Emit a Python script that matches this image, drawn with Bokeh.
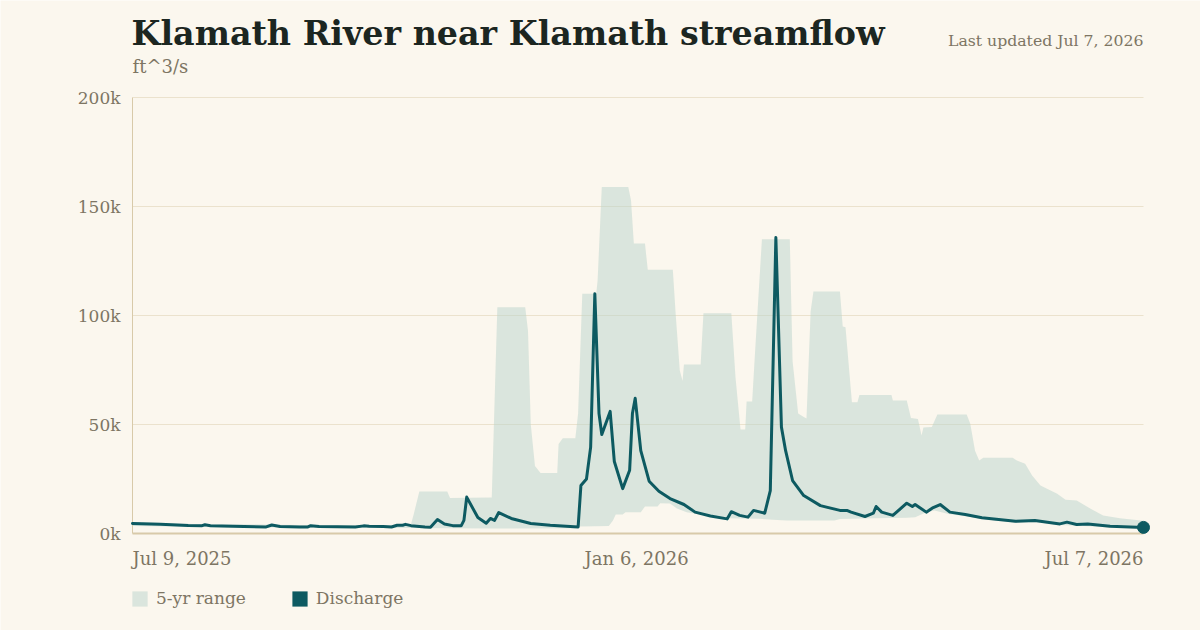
import numpy as np
import pandas as pd
from bokeh.plotting import figure
from bokeh.models import Label, Legend, LegendItem, Range1d
from bokeh.embed import file_html
from bokeh.resources import INLINE

# ---------------- data ----------------
# days counted from Jul 9, 2025; values in thousands of ft^3/s
discharge_day = [0, 10, 20, 25, 26, 28, 40, 48, 50, 53, 60, 63, 64, 67, 80, 83, 85, 90,
                 93, 95, 97, 98, 100, 105, 107, 109.5, 112, 115, 118, 119, 120, 124, 127,
                 128.5, 130, 131.5, 136, 143, 150, 160, 161, 163, 164.5, 166, 167.5, 168.5,
                 171.5, 173, 176, 178.5, 179.5, 180.5, 182.5, 185.5, 189, 193, 198, 202,
                 207.5, 213.5, 215, 218, 221, 223, 227, 229, 231, 233, 234.5, 237, 241, 247,
                 254, 256.5, 258, 263, 266, 267, 269, 273, 278, 280, 281, 285, 287.5, 290,
                 293.5, 299, 305, 317, 324, 333, 335.5, 339, 343, 351, 363]
discharge_k = [4.6, 4.2, 3.7, 3.6, 4.0, 3.6, 3.2, 3.0, 3.9, 3.2, 3.0, 3.0, 3.6, 3.2, 3.0, 3.5,
               3.3, 3.2, 3.0, 3.8, 3.8, 4.2, 3.6, 3.0, 2.9, 6.4, 4.4, 3.6, 3.5, 6.0, 16.7, 7.3,
               4.7, 6.9, 6.0, 9.6, 6.9, 4.6, 3.8, 3.0, 22, 25, 39.6, 110, 55, 45.4, 56, 33,
               20.6, 29, 55, 62, 38, 24, 19.4, 16, 13.3, 9.8, 8.0, 6.7, 10, 8.3, 7.5, 10.6,
               9.3, 19.7, 135.8, 48.8, 38, 24.3, 17.4, 12.8, 10.6, 10.6, 9.8, 7.8, 9.3, 12.4,
               9.8, 8.3, 13.9, 12.4, 13.3, 9.8, 11.9, 13.3, 9.8, 8.7, 7.2, 5.6, 6.0, 4.4, 5.2,
               4.1, 4.4, 3.3, 2.8]

range_upper_day = [0, 10, 30, 40, 50, 70, 90, 100, 101, 103, 113, 114, 129, 131, 141, 142, 143,
                   144.5, 146.5, 152.5, 153, 154.5, 159, 160, 161.5, 166.5, 167, 168.5, 178,
                   179, 180, 184, 185, 194, 195, 196.5, 197.5, 198, 204, 205, 215, 216.5,
                   218.3, 220, 220.5, 222.5, 223.5, 226, 236, 237, 239, 241, 242, 243.5,
                   244.5, 254, 255, 256, 258.3, 260.3, 261, 272.5, 273, 278, 279.5, 282,
                   283.3, 284, 287, 289, 299.5, 300.8, 302.5, 304, 305.5, 316, 317.5, 320.5,
                   323, 326, 332, 335, 339, 344, 348.5, 354.5, 362, 363]
range_upper_k = [5.2, 4.8, 4.0, 4.3, 4.0, 3.8, 3.8, 4.2, 9, 19.3, 19.3, 16.3, 16.5, 103.8,
                 103.8, 93, 50, 31, 27.7, 27.7, 41, 43.7, 43.7, 55, 110, 110, 116, 159, 159,
                 152.8, 133, 133, 121, 121, 101, 74.8, 70, 77.5, 77.5, 101, 101, 71.7, 47.7,
                 47.7, 60.5, 60.5, 82.5, 135, 135, 79, 55, 53.4, 52.7, 102, 111, 111, 95,
                 94.6, 60.2, 60.2, 63.5, 63.5, 61, 61, 53, 52.5, 45, 48.6, 48.8, 54.6, 54.6,
                 50.3, 38, 33.5, 34.7, 34.7, 33.5, 32, 26.6, 22, 18.2, 15.5, 15.1, 11.3, 8.3,
                 7, 6, 5.8]

range_lower_day = [0, 30, 60, 100, 130, 159, 160, 171, 172.5, 173.5, 176, 177, 182.5, 184,
                   188.5, 189.5, 193, 195.5, 199, 206, 213.5, 225, 230, 235, 252, 254, 266,
                   278, 281, 285, 288, 293, 300, 305, 317, 325, 333, 340, 350, 363]
range_lower_k = [3.4, 3.0, 2.7, 2.5, 2.3, 2.4, 3.2, 3.4, 6, 8.7, 8.7, 9.8, 9.8, 12.4, 12.4,
                 13.9, 13.8, 11.5, 9.8, 8.3, 7.0, 6.8, 6.3, 6.0, 6.0, 6.7, 7.0, 7.2, 7.5, 9.8,
                 10.6, 9.0, 7.8, 6.6, 5.0, 5.2, 3.9, 3.6, 2.9, 2.5]

x_tick_dates = ["2025-07-09", "2026-01-06", "2026-07-07"]
x_tick_labels = ["Jul 9, 2025", "Jan 6, 2026", "Jul 7, 2026"]
y_ticks = [0, 50000, 100000, 150000, 200000]
y_tick_labels = ["0k", "50k", "100k", "150k", "200k"]

title_text = "Klamath River near Klamath streamflow"
unit_text = "ft^3/s"
updated_text = "Last updated Jul 7, 2026"

# ---------------- style / layout ----------------
BG = "#fbf7ee"
INK = "#1c2621"
GREY = "#7d7563"
GRID = "#ebe2cd"
AXIS = "#d8caa9"
BAND = "#b9d4cb"
LINE = "#0d5a61"
FONT = "DejaVu Serif"

W, H = 1200, 630
PL, PR, PT, PB = 132, 1143, 97, 533   # plotting rectangle in canvas pixels

start = pd.Timestamp(x_tick_dates[0])


def to_dates(days):
    return (start + pd.to_timedelta(np.array(days, dtype=float), unit="D")).values


def ms(ts):
    return pd.Timestamp(ts).timestamp() * 1000.0


q_x = to_dates(discharge_day)
q_y = np.array(discharge_k) * 1000
up_x = to_dates(range_upper_day)
up_y = np.array(range_upper_k) * 1000
lo_x = to_dates(range_lower_day)
lo_y = np.array(range_lower_k) * 1000

x0 = pd.Timestamp(x_tick_dates[0])
x1 = pd.Timestamp(x_tick_dates[-1])
y_top = y_ticks[-1]

# map the data rectangle onto the chosen pixel rectangle (frame = whole canvas)
kx = (PR - PL) / (ms(x1) - ms(x0))
ky = (PB - PT) / y_top
x_range = Range1d(ms(x0) - PL / kx, ms(x1) + (W - PR) / kx)
y_range = Range1d(-(H - PB) / ky, y_top + PT / ky)

p = figure(width=W, height=H, x_axis_type="datetime", x_range=x_range, y_range=y_range,
           output_backend="svg", toolbar_location=None,
           min_border=0, min_border_left=0, min_border_right=0,
           min_border_top=0, min_border_bottom=0)
p.background_fill_color = BG
p.border_fill_color = BG
p.outline_line_color = None
p.grid.visible = False
p.axis.visible = False

# grid lines limited to the data period
gy = y_ticks[1:]
n = len(gy)
p.segment(x0=np.array([x0.to_datetime64()] * n), x1=np.array([x1.to_datetime64()] * n),
          y0=gy, y1=gy, line_color=GRID, line_width=1)

band_x = np.concatenate([up_x, lo_x[::-1]])
band_y = np.concatenate([up_y, lo_y[::-1]])
band_r = p.patch(band_x, band_y, fill_color=BAND, fill_alpha=0.5, line_color=None)

# axis lines
p.segment(x0=[x0.to_datetime64()], x1=[x0.to_datetime64()], y0=[y_ticks[0]], y1=[y_top],
          line_color=AXIS, line_width=1)
p.segment(x0=[x0.to_datetime64()], x1=[x1.to_datetime64()], y0=[y_ticks[0]], y1=[y_ticks[0]],
          line_color=AXIS, line_width=2)

# zero-height area on the discharge series: draws nothing, gives a filled legend swatch
swatch_r = p.varea(x=q_x, y1=q_y, y2=q_y, fill_color=LINE)

line_r = p.line(q_x, q_y, line_color=LINE, line_width=3, line_join="round", line_cap="round")
p.scatter(x=[q_x[-1]], y=[q_y[-1]], size=12, fill_color=LINE, line_color=LINE)

# tick labels
for t, lab in zip(y_ticks, y_tick_labels):
    p.add_layout(Label(x=ms(x0), y=t, x_offset=-12, text=lab, text_align="right",
                       text_baseline="middle", text_font=FONT, text_font_size="17px",
                       text_color=GREY))
for d, lab, al in zip(x_tick_dates, x_tick_labels, ["left", "center", "right"]):
    p.add_layout(Label(x=ms(d), y=0, text=lab, text_align=al, text_baseline="middle",
                       y_offset=-25, text_font=FONT, text_font_size="18px", text_color=GREY))

# header texts
p.add_layout(Label(x=ms(x0), y=y_top, x_offset=-1, y_offset=64, text=title_text,
                   text_font=FONT, text_font_style="bold", text_font_size="33.3px",
                   text_color=INK, text_baseline="middle"))
p.add_layout(Label(x=ms(x0), y=y_top, x_offset=0, y_offset=31, text=unit_text,
                   text_font=FONT, text_font_size="18px", text_color=GREY,
                   text_baseline="middle"))
p.add_layout(Label(x=ms(x1), y=y_top, y_offset=57, text=updated_text, text_align="right",
                   text_font=FONT, text_font_size="15.7px", text_color=GREY,
                   text_baseline="middle"))

legend = Legend(items=[LegendItem(label="5-yr range", renderers=[band_r]),
                       LegendItem(label="Discharge", renderers=[swatch_r])],
                location=(PL - 2, 22), orientation="horizontal",
                glyph_width=19, glyph_height=19, label_standoff=7, spacing=44,
                padding=0, margin=0, border_line_color=None, background_fill_alpha=0,
                label_text_font=FONT, label_text_font_size="17px", label_text_color=GREY,
                label_height=19)
p.add_layout(legend, "center")

open("out.html", "w").write(file_html(p, INLINE))
